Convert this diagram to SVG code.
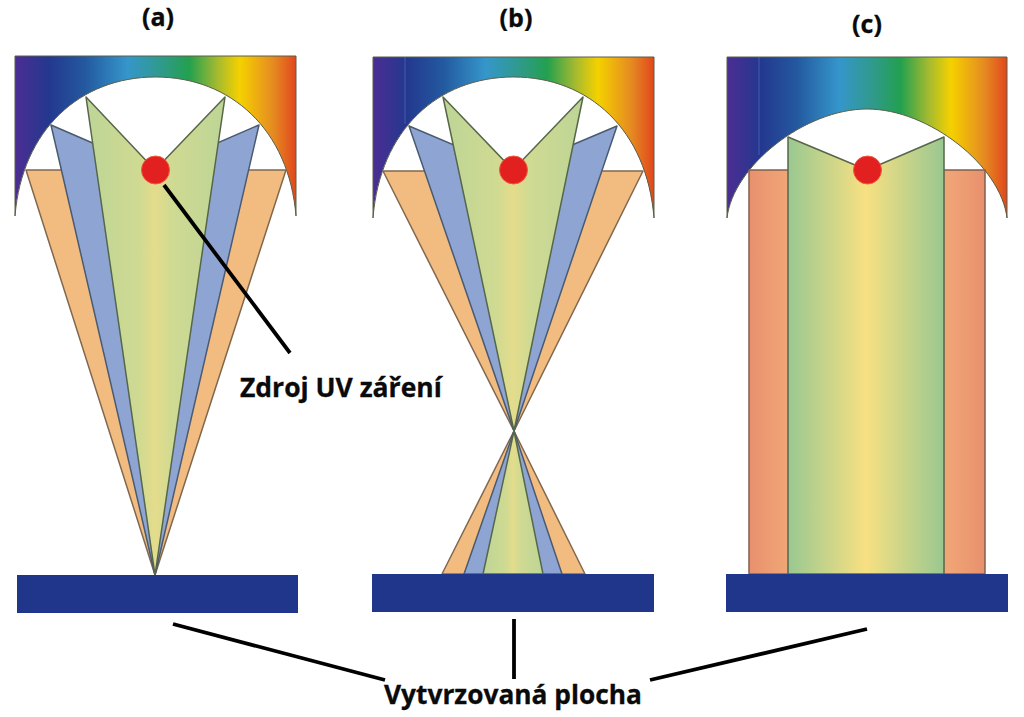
<svg xmlns="http://www.w3.org/2000/svg" width="1024" height="717" viewBox="0 0 1024 717">
<style>
.refl{fill:url(#spectrum);stroke:#5b5f4a;stroke-width:1}
.orange{fill:#f2bc80;stroke:#80684f;stroke-width:1.500;stroke-linejoin:round}
.blue{fill:#8ea5d4;stroke:#4a5a70;stroke-width:1.500;stroke-linejoin:round}
.green{fill:url(#greenA);stroke:#56664a;stroke-width:1.500;stroke-linejoin:round}
.lamp{fill:#e2201f;stroke:#ee5a40;stroke-width:1}
.base{fill:#20368a}
.lead{stroke:#000;stroke-width:3.800;fill:none}
.seam{stroke:#6a88c4;stroke-width:1;opacity:.45}
text{font-family:"Open Sans","Liberation Sans",sans-serif;font-weight:700;fill:#0a0a0a;stroke:#0a0a0a;stroke-width:.3}
</style>
<defs>
<linearGradient id="spectrum" x1="0" x2="1" y1="0" y2="0">
<stop offset="0" stop-color="#4c2d92"/>
<stop offset=".12" stop-color="#23388f"/>
<stop offset=".25" stop-color="#23599f"/>
<stop offset=".4" stop-color="#3596cb"/>
<stop offset=".52" stop-color="#2f9a8c"/>
<stop offset=".62" stop-color="#23a04f"/>
<stop offset=".72" stop-color="#a4ba30"/>
<stop offset=".8" stop-color="#f5d100"/>
<stop offset=".92" stop-color="#e58a22"/>
<stop offset="1" stop-color="#e1471c"/>
</linearGradient>
<linearGradient id="greenA" x1="0" x2="1" y1="0" y2="0">
<stop offset="0" stop-color="#bdd596"/>
<stop offset=".38" stop-color="#cfda92"/>
<stop offset=".5" stop-color="#e4dc8c"/>
<stop offset=".62" stop-color="#cfda92"/>
<stop offset="1" stop-color="#bdd596"/>
</linearGradient>
<linearGradient id="greenC" x1="0" x2="1" y1="0" y2="0">
<stop offset="0" stop-color="#99c891"/>
<stop offset=".5" stop-color="#f8e082"/>
<stop offset="1" stop-color="#99c891"/>
</linearGradient>
<linearGradient id="orangeC" gradientUnits="userSpaceOnUse" x1="749" x2="985" y1="0" y2="0">
<stop offset="0" stop-color="#e9906e"/>
<stop offset=".16" stop-color="#f0a676"/>
<stop offset=".84" stop-color="#f0a676"/>
<stop offset="1" stop-color="#e9906e"/>
</linearGradient>
</defs>

<g id="panel-a">
<path class="refl" d="M15 56H296V216C289 130 231 77 155.500 77C80 77 22 130 15 216Z"/>
<polygon class="orange" points="26,170 286,170 155,575"/>
<polygon class="blue" points="51,125 155,170 259,125 155,575"/>
<polygon class="green" points="86,97 155,170 225,97 155,575"/>
<circle class="lamp" cx="155.500" cy="170" r="14"/>
<rect class="base" x="17" y="575" width="281" height="38"/>
<text x="158" y="26" font-size="25" text-anchor="middle">(a)</text>
</g>

<g id="panel-b">
<path class="refl" d="M373 57H654V218C647 130 589 77 513.500 77C438 77 380 130 373 218Z"/>
<line class="seam" x1="405" y1="57" x2="405" y2="124"/>
<polygon class="orange" points="383,171 643,171 514,431"/>
<polygon class="orange" points="514,431 585,574 442,574"/>
<polygon class="blue" points="409,126 513,170 617,126 514,431"/>
<polygon class="blue" points="514,431 562,574 464,574"/>
<polygon class="green" points="443,97 513,170 583,97 514,431"/>
<polygon class="green" points="514,431 543,574 483,574"/>
<circle class="lamp" cx="513.500" cy="170" r="14"/>
<rect class="base" x="372" y="574" width="282" height="38"/>
<text x="516" y="27" font-size="25" text-anchor="middle">(b)</text>
</g>

<g id="panel-c">
<path class="refl" d="M727 57H1007V218C1001 166 929 109 867 109C805 109 733 166 727 218Z"/>
<line class="seam" x1="759" y1="57" x2="759" y2="155"/>
<rect x="749" y="170" width="236" height="404" fill="url(#orangeC)" stroke="#80604e" stroke-width="1.500"/>
<polygon points="788,137 867,170 944,137 944,574 788,574" fill="url(#greenC)" stroke="#56664a" stroke-width="1.500" stroke-linejoin="round"/>
<circle class="lamp" cx="867.500" cy="170" r="14"/>
<rect class="base" x="726" y="574" width="282" height="38"/>
<text x="867" y="33" font-size="25" text-anchor="middle">(c)</text>
</g>

<g id="connectors">
<line class="lead" x1="164" y1="185" x2="290" y2="353"/>
<line class="lead" x1="173" y1="624" x2="385" y2="680"/>
<line class="lead" x1="514" y1="619" x2="514" y2="679"/>
<line class="lead" x1="867" y1="629" x2="650" y2="680"/>
</g>

<g id="labels">
<text x="240" y="397" font-size="26.500">Zdroj UV záření</text>
<text x="384" y="704" font-size="26.300">Vytvrzovaná plocha</text>
</g>
</svg>
